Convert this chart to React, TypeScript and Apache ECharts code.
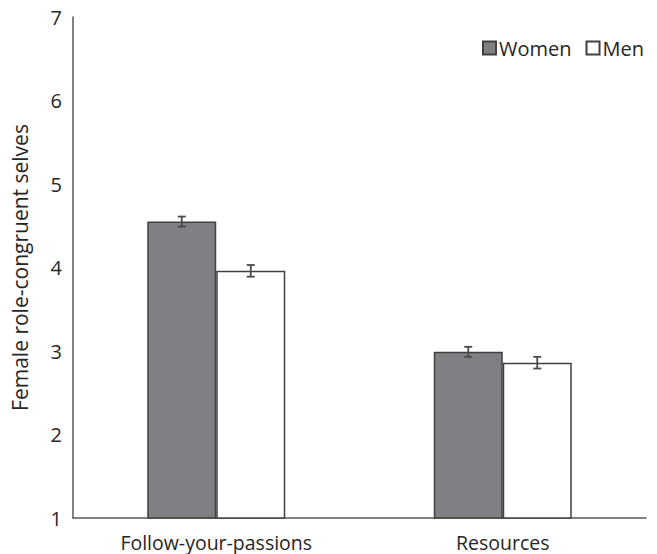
import React, { useEffect, useRef } from "react";
import * as echarts from "echarts";

const categories = ["Follow-your-passions", "Resources"];
const womenValues = [4.55, 2.99];
const womenErrors = [0.06, 0.06];
const menValues = [3.96, 2.86];
const menErrors = [0.07, 0.07];
const yTicks = [1, 2, 3, 4, 5, 6, 7];

const FONT = "'Open Sans', 'Noto Sans', sans-serif";
const BAR_W = 69;

export default function App() {
  const ref = useRef<HTMLDivElement>(null);
  useEffect(() => {
    const chart = echarts.init(ref.current!, null, { renderer: "svg" });
    const errData: number[][] = [];
    categories.forEach((_, i) => {
      errData.push([i, womenValues[i], womenErrors[i], -1]);
      errData.push([i, menValues[i], menErrors[i], 1]);
    });
    chart.setOption({
      animation: false,
      backgroundColor: "#ffffff",
      grid: { left: 73, right: 11, top: 17, bottom: 36, containLabel: false },
      legend: {
        right: 8,
        top: 33,
        itemWidth: 13,
        itemHeight: 13,
        itemGap: 14,
        icon: "rect",
        textStyle: { fontFamily: FONT, fontSize: 20, color: "#262626", padding: [0, 0, 0, -2] },
        data: ["Women", "Men"],
      },
      xAxis: {
        type: "category",
        data: categories,
        axisLine: { lineStyle: { color: "#595959", width: 1.5 } },
        axisTick: { show: false },
        axisLabel: { fontFamily: FONT, fontSize: 19.5, color: "#262626", margin: 14 },
      },
      yAxis: {
        type: "value",
        min: yTicks[0],
        max: yTicks[yTicks.length - 1],
        interval: 1,
        name: "Female role-congruent selves",
        nameLocation: "middle",
        nameGap: 43,
        nameTextStyle: { fontFamily: FONT, fontSize: 21, color: "#262626" },
        axisLine: { show: true, lineStyle: { color: "#595959", width: 1.5 } },
        axisTick: { show: false },
        splitLine: { show: false },
        axisLabel: { fontFamily: FONT, fontSize: 20, color: "#262626", margin: 11 },
      },
      series: [
        {
          name: "Women",
          type: "bar",
          data: womenValues,
          barWidth: BAR_W,
          barGap: "0%",
          itemStyle: { color: "#808084", borderColor: "#404040", borderWidth: 1.5 },
        },
        {
          name: "Men",
          type: "bar",
          data: menValues,
          barWidth: BAR_W,
          barGap: "0%",
          itemStyle: { color: "#ffffff", borderColor: "#404040", borderWidth: 1.5 },
        },
        {
          type: "custom",
          data: errData,
          z: 10,
          renderItem: (params: any, api: any) => {
            const idx = api.value(0);
            const v = api.value(1);
            const e = api.value(2);
            const side = api.value(3);
            const top = api.coord([idx, v + e]);
            const bot = api.coord([idx, v - e]);
            const x = top[0] + side * BAR_W / 2;
            const cap = 4;
            const style = { stroke: "#4a4a4a", lineWidth: 1.8, fill: "none" };
            return {
              type: "group",
              children: [
                { type: "line", shape: { x1: x, y1: top[1], x2: x, y2: bot[1] }, style },
                { type: "line", shape: { x1: x - cap, y1: top[1], x2: x + cap, y2: top[1] }, style },
                { type: "line", shape: { x1: x - cap, y1: bot[1], x2: x + cap, y2: bot[1] }, style },
              ],
            };
          },
        },
      ],
    });
    return () => chart.dispose();
  }, []);
  return <div ref={ref} style={{ width: 657, height: 554, position: "absolute", left: 0, top: 0 }} />;
}
